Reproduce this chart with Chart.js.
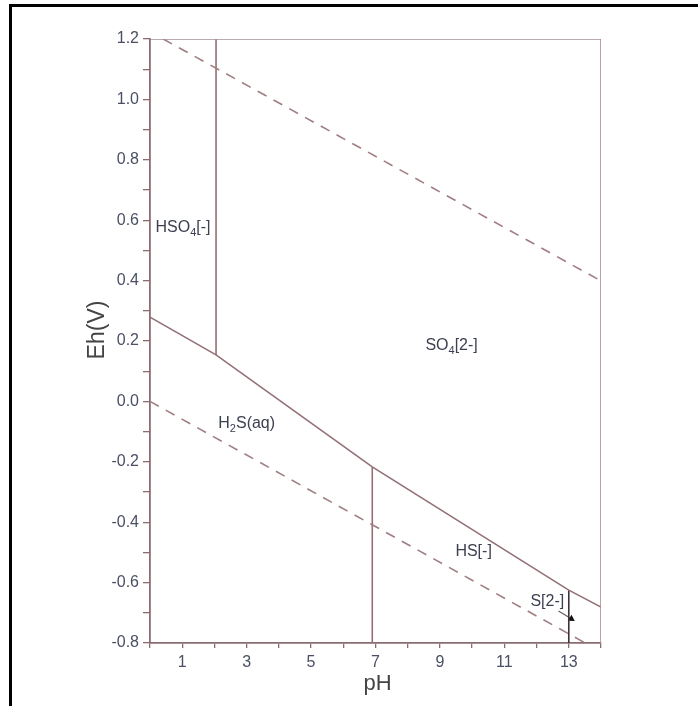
<!DOCTYPE html>
<html>
<head>
<meta charset="utf-8">
<script src="https://cdn.jsdelivr.net/npm/chart.js@4"></script>
<style>
  body { margin: 0; background: #fff; }
  #wrap { position: relative; width: 698px; height: 706px; overflow: hidden; }
  #frame { position: absolute; left: 9px; top: 4px; width: 720px; height: 720px;
           border-top: 3px solid #000; border-left: 3px solid #000; }
  canvas { position: absolute; left: 0; top: 0; }
</style>
</head>
<body>
<div id="wrap">
  <div id="frame"></div>
  <canvas id="chart" width="698" height="706"></canvas>
</div>
<script>
// pH / Eh values
const boundaryPH = [0, 2.05, 6.9, 13, 14];
const boundaryEh = [0.279, 0.154, -0.217, -0.625, -0.681];

const o2WaterPH = [0.41, 14];
const o2WaterEh = [1.2, 0.399];

const h2WaterPH = [0, 13.51];
const h2WaterEh = [0, -0.8];

const hso4EdgePH = [2.05, 2.05];
const hso4EdgeEh = [1.2, 0.154];

const h2sEdgePH = [6.9, 6.9];
const h2sEdgeEh = [-0.217, -0.8];

const hsEdgePH = [13, 13];
const hsEdgeEh = [-0.625, -0.8];

const framePH = [0, 14, 14];
const frameEh = [1.2, 1.2, -0.8];

const arrowPH = [12.68, 13.08];
const arrowEh = [-0.694, -0.72];

// field labels: [main, subscript, rest, pH, Eh]
const fieldLabels = [
  ["HSO", "4", "[-]", 0.17, 0.561],
  ["SO", "4", "[2-]", 8.55, 0.17],
  ["H", "2", "S(aq)", 2.12, -0.088],
  ["HS[-]", "", "", 9.48, -0.512],
  ["S[2-]", "", "", 11.81, -0.677]
];

const lineColor = "#937075";
const dashColor = "#a07e82";
const axisColor = "#8b6c70";
const textColor = "#4a4f63";

function pts(xs, ys) {
  return xs.map((x, i) => ({ x: x, y: ys[i] }));
}

function solid(xs, ys, color) {
  return {
    data: pts(xs, ys), showLine: true, pointRadius: 0,
    borderColor: color || lineColor, borderWidth: 1.6, fill: false
  };
}

function dashed(xs, ys) {
  return {
    data: pts(xs, ys), showLine: true, pointRadius: 0,
    borderColor: dashColor, borderWidth: 1.6, borderDash: [10, 8], fill: false
  };
}

const labelPlugin = {
  id: "fieldLabels",
  afterDatasetsDraw(chart) {
    const ctx = chart.ctx;
    const xs = chart.scales.x, ys = chart.scales.y;
    const area = chart.chartArea;
    ctx.save();
    ctx.fillStyle = "#3c4050";
    ctx.textBaseline = "alphabetic";
    ctx.textAlign = "left";
    fieldLabels.forEach(l => {
      let px = xs.getPixelForValue(l[3]);
      const py = ys.getPixelForValue(l[4]);
      ctx.font = "16px 'Liberation Sans', Arial, sans-serif";
      ctx.fillText(l[0], px, py);
      px += ctx.measureText(l[0]).width;
      if (l[1]) {
        ctx.font = "11px 'Liberation Sans', Arial, sans-serif";
        ctx.fillText(l[1], px, py + 4);
        px += ctx.measureText(l[1]).width;
      }
      if (l[2]) {
        ctx.font = "16px 'Liberation Sans', Arial, sans-serif";
        ctx.fillText(l[2], px, py);
      }
    });

    // axis titles
    ctx.fillStyle = "#444";
    ctx.textAlign = "center";
    ctx.textBaseline = "middle";
    ctx.font = "22px 'Liberation Sans', Arial, sans-serif";
    ctx.fillText("pH", (area.left + area.right) / 2 + 2, area.bottom + 41);
    ctx.translate(area.left - 52, (area.top + area.bottom) / 2 - 11);
    ctx.rotate(-Math.PI / 2);
    ctx.font = "23px 'Liberation Sans', Arial, sans-serif";
    ctx.fillText("Eh(V)", 0, 0);
    ctx.restore();
  }
};

new Chart(document.getElementById("chart"), {
  type: "scatter",
  data: {
    datasets: [
      solid(framePH, frameEh, "#a58f93"),
      dashed(o2WaterPH, o2WaterEh),
      dashed(h2WaterPH, h2WaterEh),
      solid(boundaryPH, boundaryEh),
      solid(hso4EdgePH, hso4EdgeEh),
      solid(h2sEdgePH, h2sEdgeEh),
      solid(hsEdgePH, hsEdgeEh, "#3d3236"),
      {
        data: pts(arrowPH, arrowEh), showLine: true,
        borderColor: "#6a5a60", borderWidth: 1.2,
        pointRadius: [0, 4], pointStyle: "triangle", rotation: 122,
        pointBackgroundColor: "#111", pointBorderColor: "#111", pointBorderWidth: 0
      }
    ]
  },
  options: {
    responsive: false,
    animation: false,
    layout: { padding: { left: 0, top: 39, right: 97, bottom: 0 } },
    plugins: { legend: { display: false }, tooltip: { enabled: false } },
    scales: {
      x: {
        type: "linear", min: 0, max: 14,
        afterFit: s => { s.height = 63; },
        grid: { drawOnChartArea: false, drawTicks: true, tickLength: 5, color: axisColor, lineWidth: 1.3 },
        border: { display: true, color: axisColor, width: 1.8 },
        ticks: {
          stepSize: 1, padding: 5, color: textColor, maxRotation: 0, autoSkip: false,
          font: { size: 16, family: "'Liberation Sans', Arial, sans-serif" },
          callback: v => (Math.round(v) % 2 === 1 ? String(Math.round(v)) : "")
        }
      },
      y: {
        type: "linear", min: -0.8, max: 1.2,
        afterFit: s => { s.width = 150; },
        grid: { drawOnChartArea: false, drawTicks: true, tickLength: 7, color: axisColor, lineWidth: 1.3 },
        border: { display: true, color: axisColor, width: 1.8 },
        ticks: {
          stepSize: 0.1, padding: 4, color: textColor, autoSkip: false,
          font: { size: 16, family: "'Liberation Sans', Arial, sans-serif" },
          callback: v => (Math.round(v * 10) % 2 === 0 ? v.toFixed(1) : "")
        }
      }
    }
  },
  plugins: [labelPlugin]
});
</script>
</body>
</html>
